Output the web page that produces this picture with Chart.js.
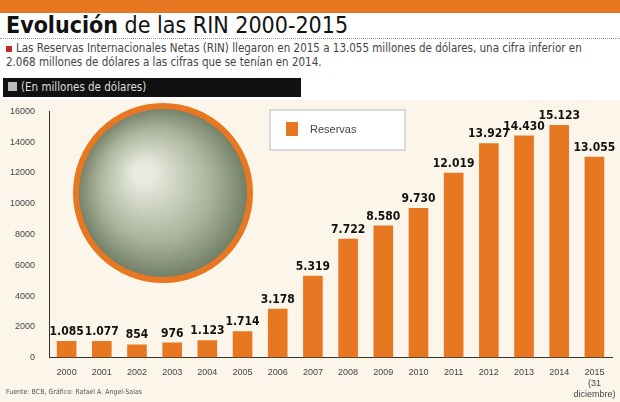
<!DOCTYPE html>
<html><head><meta charset="utf-8">
<script src="https://cdn.jsdelivr.net/npm/chart.js@4"></script>
<style>
body{margin:0;width:620px;height:402px;background:#fff;font-family:"Liberation Sans Narrow","DejaVu Sans Condensed",sans-serif;overflow:hidden;position:relative}
.band{position:absolute;left:0;top:0;width:620px;height:13px;background:#e87722}
.title{position:absolute;left:6px;top:12px;font-size:23px;color:#111;font-family:"DejaVu Sans Condensed",sans-serif}
.title b{font-weight:bold}
.rule{position:absolute;left:0;top:38px;width:620px;border-top:1px dotted #999}
.sub{position:absolute;left:6px;top:41px;width:600px;font-size:11.5px;line-height:14px;color:#444}
.sub:before{content:"";display:inline-block;width:6px;height:6px;background:#c0282a;margin-right:4px}
.unit{position:absolute;left:3px;top:78px;width:298px;height:19px;background:#111;color:#ddd;font-size:11.5px;line-height:19px}
.unit:before{content:"";display:inline-block;width:9px;height:9px;background:#bbb;margin:0 4px 0 5px}
.wrap{position:absolute;left:0;top:100px;width:620px;height:302px;background:#fcf6ea}
.src{position:absolute;left:6px;top:388px;font-size:7px;color:#555}
</style></head><body>
<div class="band"></div>
<div class="title"><b>Evolución</b> de las RIN 2000-2015</div>
<div class="rule"></div>
<div class="sub">Las Reservas Internacionales Netas (RIN) llegaron en 2015 a 13.055 millones de dólares, una cifra inferior en 2.068 millones de dólares a las cifras que se tenían en 2014.</div>
<div class="wrap"><canvas id="c" width="620" height="302"></canvas></div>
<div class="unit">(En millones de dólares)</div>
<div class="src">Fuente: BCB, Gráfico: Rafael A. Angel-Salas</div>
<script>
// datos
const years = ['2000','2001','2002','2003','2004','2005','2006','2007','2008','2009','2010','2011','2012','2013','2014',['2015','(31','diciembre)']];
const reservas = [1085,1077,854,976,1123,1714,3178,5319,7722,8580,9730,12019,13927,14430,15123,13055];
const yTicks = [0,2000,4000,6000,8000,10000,12000,14000,16000];

const fmt = v => v.toLocaleString('de-DE');

// etiquetas sobre las barras + circulo de la foto + leyenda
const extras = {
  id: 'extras',
  afterDatasetsDraw(chart) {
    const ctx = chart.ctx;
    const meta = chart.getDatasetMeta(0);
    ctx.save();
    ctx.font = 'bold 12px "DejaVu Sans Condensed", sans-serif';
    ctx.fillStyle = '#111';
    ctx.textAlign = 'center';
    meta.data.forEach((b, i) => ctx.fillText(fmt(reservas[i]), b.x, b.y - 6));
    // foto de billetes (circulo)
    const cx = 163, cy = 93, r = 87;
    const g = ctx.createRadialGradient(cx - 20, cy - 20, 10, cx, cy, r);
    g.addColorStop(0, '#e8eadf'); g.addColorStop(0.6, '#a9b39a'); g.addColorStop(1, '#6f7c63');
    ctx.beginPath(); ctx.arc(cx, cy, r, 0, Math.PI * 2);
    ctx.fillStyle = g; ctx.fill();
    ctx.lineWidth = 6; ctx.strokeStyle = '#e87722'; ctx.stroke();
    // leyenda
    ctx.fillStyle = '#fff'; ctx.strokeStyle = '#bbb'; ctx.lineWidth = 1;
    ctx.fillRect(270, 10, 135, 40); ctx.strokeRect(270, 10, 135, 40);
    ctx.fillStyle = '#e87722'; ctx.fillRect(286, 22, 12, 14);
    ctx.fillStyle = '#444'; ctx.font = '11px "Liberation Sans Narrow", sans-serif';
    ctx.textAlign = 'left'; ctx.fillText('Reservas', 310, 33);
    ctx.restore();
  }
};

new Chart(document.getElementById('c'), {
  type: 'bar',
  data: { labels: years, datasets: [{ label: 'Reservas', data: reservas, backgroundColor: '#e87722', categoryPercentage: 0.9, barPercentage: 0.62 }] },
  options: {
    responsive: false, animation: false,
    layout: { padding: { left: 4, right: 8, top: 6, bottom: 0 } },
    plugins: { legend: { display: false }, tooltip: { enabled: false } },
    scales: {
      x: { grid: { display: false }, border: { color: '#333' },
           ticks: { color: '#444', font: { size: 9, family: '"Liberation Sans Narrow", sans-serif' }, maxRotation: 0, autoSkip: false, padding: 2 } },
      y: { min: 0, max: 16000, afterBuildTicks: a => { a.ticks = yTicks.map(v => ({ value: v })); },
           grid: { display: false }, border: { color: '#333' },
           ticks: { color: '#444', font: { size: 9, family: '"Liberation Sans Narrow", sans-serif' }, callback: v => v, padding: 6 } }
    }
  },
  plugins: [extras]
});
</script>
</body></html>
